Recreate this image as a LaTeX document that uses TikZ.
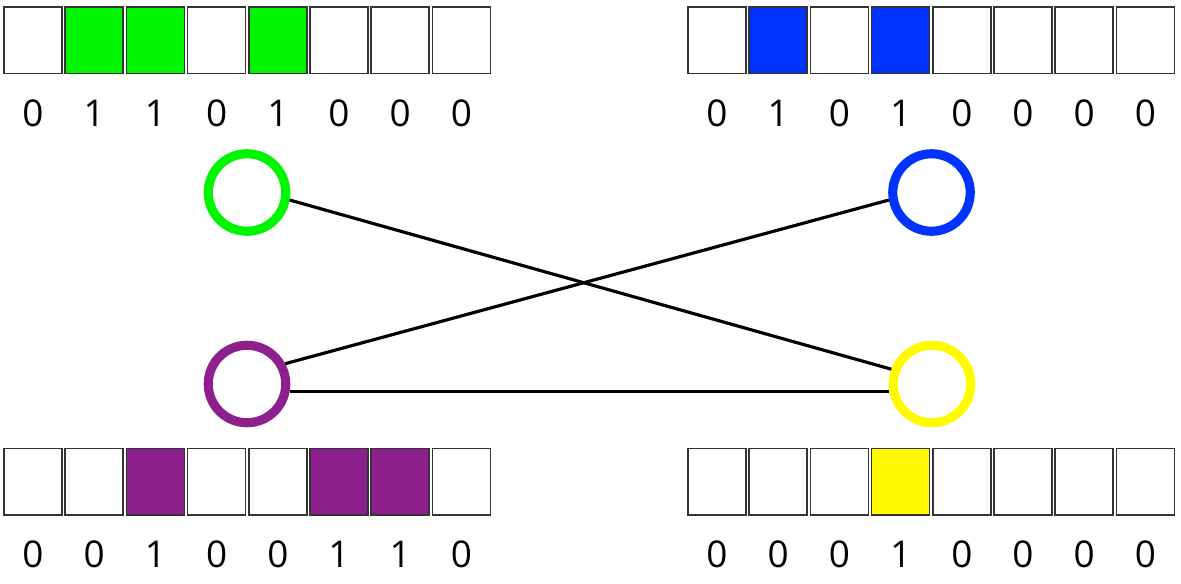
\documentclass[tikz,border=0pt]{standalone}
\usepackage{fontspec}
\setmainfont{Open Sans}
\definecolor{vgreen}{RGB}{0,245,0}
\definecolor{vblue}{RGB}{0,51,255}
\definecolor{vpurple}{RGB}{142,32,142}
\definecolor{vyellow}{RGB}{255,250,0}

\begin{document}
\begin{tikzpicture}[x=0.02cm, y=-0.02cm, cell/.style={draw=black!80, line width=0.85pt, minimum width=1.16cm, minimum height=1.33cm, inner sep=0pt}, bit/.style={font=\fontsize{21}{24}\selectfont, inner sep=0pt}, vtx/.style={draw, circle, line width=5.2pt, minimum size=1.55cm, inner sep=0pt, fill=white}, edge/.style={line width=1.8pt}]
	\useasboundingbox (0,0) rectangle (1181,583);
	\foreach \b [count=\k from 0] in {0,1,1,0,1,0,0,0} {\node[cell, fill=vgreen!\b00!white] (g\k) at ({33+61.2*\k},40) {}; \node[bit] (gl\k) at ({33+61.2*\k},113.5) {\b};}
	\foreach \b [count=\k from 0] in {0,1,0,1,0,0,0,0} {\node[cell, fill=vblue!\b00!white] (b\k) at ({717+61.2*\k},40) {}; \node[bit] (bl\k) at ({717+61.2*\k},113.5) {\b};}
	\foreach \b [count=\k from 0] in {0,0,1,0,0,1,1,0} {\node[cell, fill=vpurple!\b00!white] (p\k) at ({33+61.2*\k},481.5) {}; \node[bit] (pl\k) at ({33+61.2*\k},554) {\b};}
	\foreach \b [count=\k from 0] in {0,0,0,1,0,0,0,0} {\node[cell, fill=vyellow!\b00!white] (y\k) at ({717+61.2*\k},481.5) {}; \node[bit] (yl\k) at ({717+61.2*\k},554) {\b};}
	\node[vtx, draw=vgreen] (vg) at (247,192.5) {};
	\node[vtx, draw=vblue] (vb) at (931.5,192.5) {};
	\node[vtx, draw=vpurple] (vp) at (247,384) {};
	\node[vtx, draw=vyellow] (vy) at (932,384) {};
	\draw[edge] (vg.-10) -- (vy.160);
	\draw[edge] (vb.190) -- (vp.28);
	\draw[edge] (vp.-10) -- (vy.190);
\end{tikzpicture}
\end{document}
